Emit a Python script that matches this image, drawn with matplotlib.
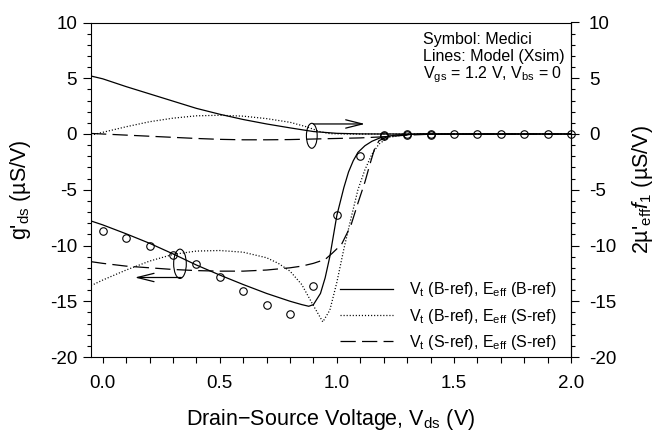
import matplotlib
matplotlib.use("Agg")
import matplotlib.pyplot as plt
from matplotlib.patches import Ellipse
from matplotlib.ticker import MultipleLocator, FormatStrFormatter

plt.rcParams["font.family"] = ["Liberation Sans", "DejaVu Sans"]
plt.rcParams["mathtext.fontset"] = "custom"
plt.rcParams["mathtext.rm"] = "Liberation Sans"
plt.rcParams["mathtext.it"] = "Liberation Sans:italic"
plt.rcParams["axes.unicode_minus"] = False
plt.rcParams["lines.scale_dashes"] = False

# Medici symbols
vds_pts = [0.0, 0.1, 0.2, 0.3, 0.4, 0.5, 0.6, 0.7, 0.8, 0.9, 1.0, 1.1, 1.2,
           1.3, 1.4, 1.5, 1.6, 1.7, 1.8, 1.9, 2.0]
gds_pts = [-8.7, -9.3, -10.0, -10.85, -11.7, -12.8, -14.05, -15.35, -16.15,
           -13.6, -7.3, -1.95, -0.2, 0.0, 0.0, 0.0, 0.0, 0.0, 0.0, 0.0, 0.0]
f1_vds_pts = [1.2, 1.3, 1.4]
f1_pts = [-0.1, -0.05, -0.1]

# upper curves (right axis): 2 mu'eff f1
up_solid_x = [-0.05, 0.0, 0.1, 0.2, 0.3, 0.4, 0.5, 0.6, 0.7, 0.8, 0.9, 1.0, 1.1, 1.2, 2.0]
up_solid_y = [5.2, 4.95, 4.25, 3.6, 2.95, 2.3, 1.77, 1.3, 0.9, 0.55, 0.22, 0.06, 0.01, 0.0, 0.0]

up_dot_x = [-0.05, 0.0, 0.1, 0.2, 0.3, 0.4, 0.5, 0.6, 0.7, 0.8, 0.87, 0.93, 0.97, 1.05, 2.0]
up_dot_y = [-0.1, 0.15, 0.65, 1.1, 1.42, 1.63, 1.68, 1.6, 1.38, 1.05, 0.65, 0.2, 0.03, 0.0, 0.0]

up_dash_x = [-0.05, 0.0, 0.1, 0.2, 0.3, 0.4, 0.5, 0.6, 0.7, 0.8, 0.9, 1.0, 1.1, 1.2, 1.3, 1.4, 2.0]
up_dash_y = [0.05, 0.0, -0.1, -0.2, -0.3, -0.4, -0.48, -0.52, -0.52, -0.5, -0.45, -0.4,
             -0.35, -0.25, -0.1, -0.02, 0.0]

# lower curves (left axis): g'ds
lo_solid_x = [-0.05, 0.0, 0.1, 0.2, 0.3, 0.4, 0.5, 0.6, 0.7, 0.8, 0.85, 0.88, 0.9,
              0.93, 0.95, 0.97, 1.0, 1.03, 1.05, 1.07, 1.09, 1.12, 1.15, 1.19, 1.25,
              1.35, 2.0]
lo_solid_y = [-7.8, -8.15, -8.95, -9.8, -10.75, -11.75, -12.65, -13.5, -14.3, -15.0,
              -15.3, -15.45, -15.3, -14.3, -12.9, -11.0, -7.3, -4.8, -3.4, -2.4,
              -1.65, -1.05, -0.65, -0.3, -0.1, 0.0, 0.0]

lo_dot_x = [-0.05, 0.0, 0.1, 0.2, 0.3, 0.4, 0.5, 0.6, 0.7, 0.75, 0.8, 0.85, 0.9,
            0.94, 0.97, 1.0, 1.03, 1.06, 1.09, 1.12, 1.15, 1.18, 1.22, 1.3, 1.4, 2.0]
lo_dot_y = [-13.6, -13.1, -12.2, -11.4, -10.8, -10.5, -10.45, -10.6, -11.1, -11.6,
            -12.3, -13.5, -15.4, -16.85, -15.8, -13.3, -10.3, -7.6, -5.0, -3.2, -1.8,
            -0.9, -0.3, -0.05, 0.0, 0.0]

lo_dash_x = [-0.05, 0.0, 0.1, 0.2, 0.3, 0.4, 0.5, 0.6, 0.7, 0.8, 0.85, 0.9, 0.95,
             0.98, 1.02, 1.06, 1.09, 1.12, 1.14, 1.16, 1.18, 1.22, 1.3, 1.4, 2.0]
lo_dash_y = [-11.45, -11.6, -11.85, -12.0, -12.15, -12.25, -12.3, -12.3, -12.2, -12.0,
             -11.85, -11.6, -11.25, -10.7, -9.9, -8.2, -6.2, -4.3, -2.8, -1.4, -0.6,
             -0.2, -0.05, 0.0, 0.0]

legend_labels = [
    r"V$_\mathrm{t}$ (B-ref), E$_\mathrm{eff}$ (B-ref)",
    r"V$_\mathrm{t}$ (B-ref), E$_\mathrm{eff}$ (S-ref)",
    r"V$_\mathrm{t}$ (S-ref), E$_\mathrm{eff}$ (S-ref)",
]

LW = 0.9
DOTS = (0, (0.8, 1.4))
DASHES = (0, (11, 4.5))

fig = plt.figure(figsize=(6.62, 4.42), dpi=100)
ax = fig.add_axes([91 / 662, 1 - 357 / 442, 480 / 662, 334.5 / 442])

h1, = ax.plot(lo_solid_x, lo_solid_y, color="black", lw=LW, linestyle="-")
h2, = ax.plot(lo_dot_x, lo_dot_y, color="black", lw=LW, linestyle=DOTS)
h3, = ax.plot(lo_dash_x, lo_dash_y, color="black", lw=LW, linestyle=DASHES)
ax.plot(up_solid_x, up_solid_y, color="black", lw=LW, linestyle="-")
ax.plot(up_dot_x, up_dot_y, color="black", lw=LW, linestyle=DOTS)
ax.plot(up_dash_x, up_dash_y, color="black", lw=LW, linestyle=DASHES)

ax.plot(vds_pts, gds_pts, linestyle="none", marker="o", ms=5.4, mfc="none",
        mec="black", mew=0.8, clip_on=False)
ax.plot(f1_vds_pts, f1_pts, linestyle="none", marker="o", ms=5.4, mfc="none",
        mec="black", mew=0.8)

# ellipses + arrows marking which axis each group belongs to
ax.add_patch(Ellipse((0.893, -0.16), 0.046, 2.24, fill=False, ec="black", lw=0.8))
ax.add_patch(Ellipse((0.33, -11.64), 0.054, 2.63, fill=False, ec="black", lw=0.8))
ax.annotate("", xy=(1.12, 0.9), xytext=(0.9, 0.9),
            arrowprops=dict(arrowstyle="->,head_length=1.2,head_width=0.3",
                            color="black", lw=0.9, shrinkA=0, shrinkB=0))
ax.annotate("", xy=(0.137, -12.87), xytext=(0.336, -12.87),
            arrowprops=dict(arrowstyle="->,head_length=1.2,head_width=0.3",
                            color="black", lw=0.9, shrinkA=0, shrinkB=0))

ax.set_xlim(-0.05, 2.0)
ax.set_ylim(-20, 10)
ax.xaxis.set_major_locator(MultipleLocator(0.5))
ax.xaxis.set_minor_locator(MultipleLocator(0.1))
ax.yaxis.set_major_locator(MultipleLocator(5))
ax.yaxis.set_minor_locator(MultipleLocator(1))
ax.xaxis.set_major_formatter(FormatStrFormatter("%.1f"))
ax.tick_params(axis="x", which="both", direction="out", length=4, width=0.8,
               labelsize=13.5, pad=9)
ax.tick_params(axis="y", which="major", direction="out", length=6, width=0.8,
               labelsize=13.5, pad=4)
ax.tick_params(axis="y", which="minor", direction="out", length=3, width=0.8)
for s in ax.spines.values():
    s.set_linewidth(0.8)

ax.set_xlabel(r"Drain$-$Source Voltage, V$_\mathrm{ds}$ (V)", fontsize=15.5, labelpad=11)
ax.set_ylabel(r"g'$_\mathrm{ds}$ (µS/V)", fontsize=15.5, labelpad=12)

ax2 = ax.twinx()
ax2.set_ylim(-20, 10)
ax2.yaxis.set_major_locator(MultipleLocator(5))
ax2.yaxis.set_minor_locator(MultipleLocator(1))
ax2.tick_params(axis="y", which="major", direction="out", length=6, width=0.8,
                labelsize=13.5, pad=7)
ax2.tick_params(axis="y", which="minor", direction="out", length=3, width=0.8)
for name, s in ax2.spines.items():
    s.set_visible(name == "right")
    s.set_linewidth(0.8)
ax2.set_ylabel(r"2µ'$_\mathrm{eff}$$\mathit{f}_\mathrm{1}$ (µS/V)", fontsize=15.5,
               rotation=90, labelpad=10)

fs = 11.5
ax.text(0.692, 0.935, "Symbol: Medici", transform=ax.transAxes, fontsize=fs,
        va="baseline", ha="left")
ax.text(0.692, 0.884, "Lines: Model (Xsim)", transform=ax.transAxes, fontsize=fs,
        va="baseline", ha="left")
ax.text(0.692, 0.832, r"V$_\mathrm{gs}$ = 1.2 V, V$_\mathrm{bs}$ = 0",
        transform=ax.transAxes, fontsize=fs, va="baseline", ha="left")

ax.legend([h1, h2, h3], legend_labels, loc="lower right", frameon=False,
          fontsize=fs, handlelength=3.3, handletextpad=1.0, labelspacing=0.45,
          borderaxespad=0.3, bbox_to_anchor=(0.993, -0.018))

fig.savefig("out.png", dpi=100)
